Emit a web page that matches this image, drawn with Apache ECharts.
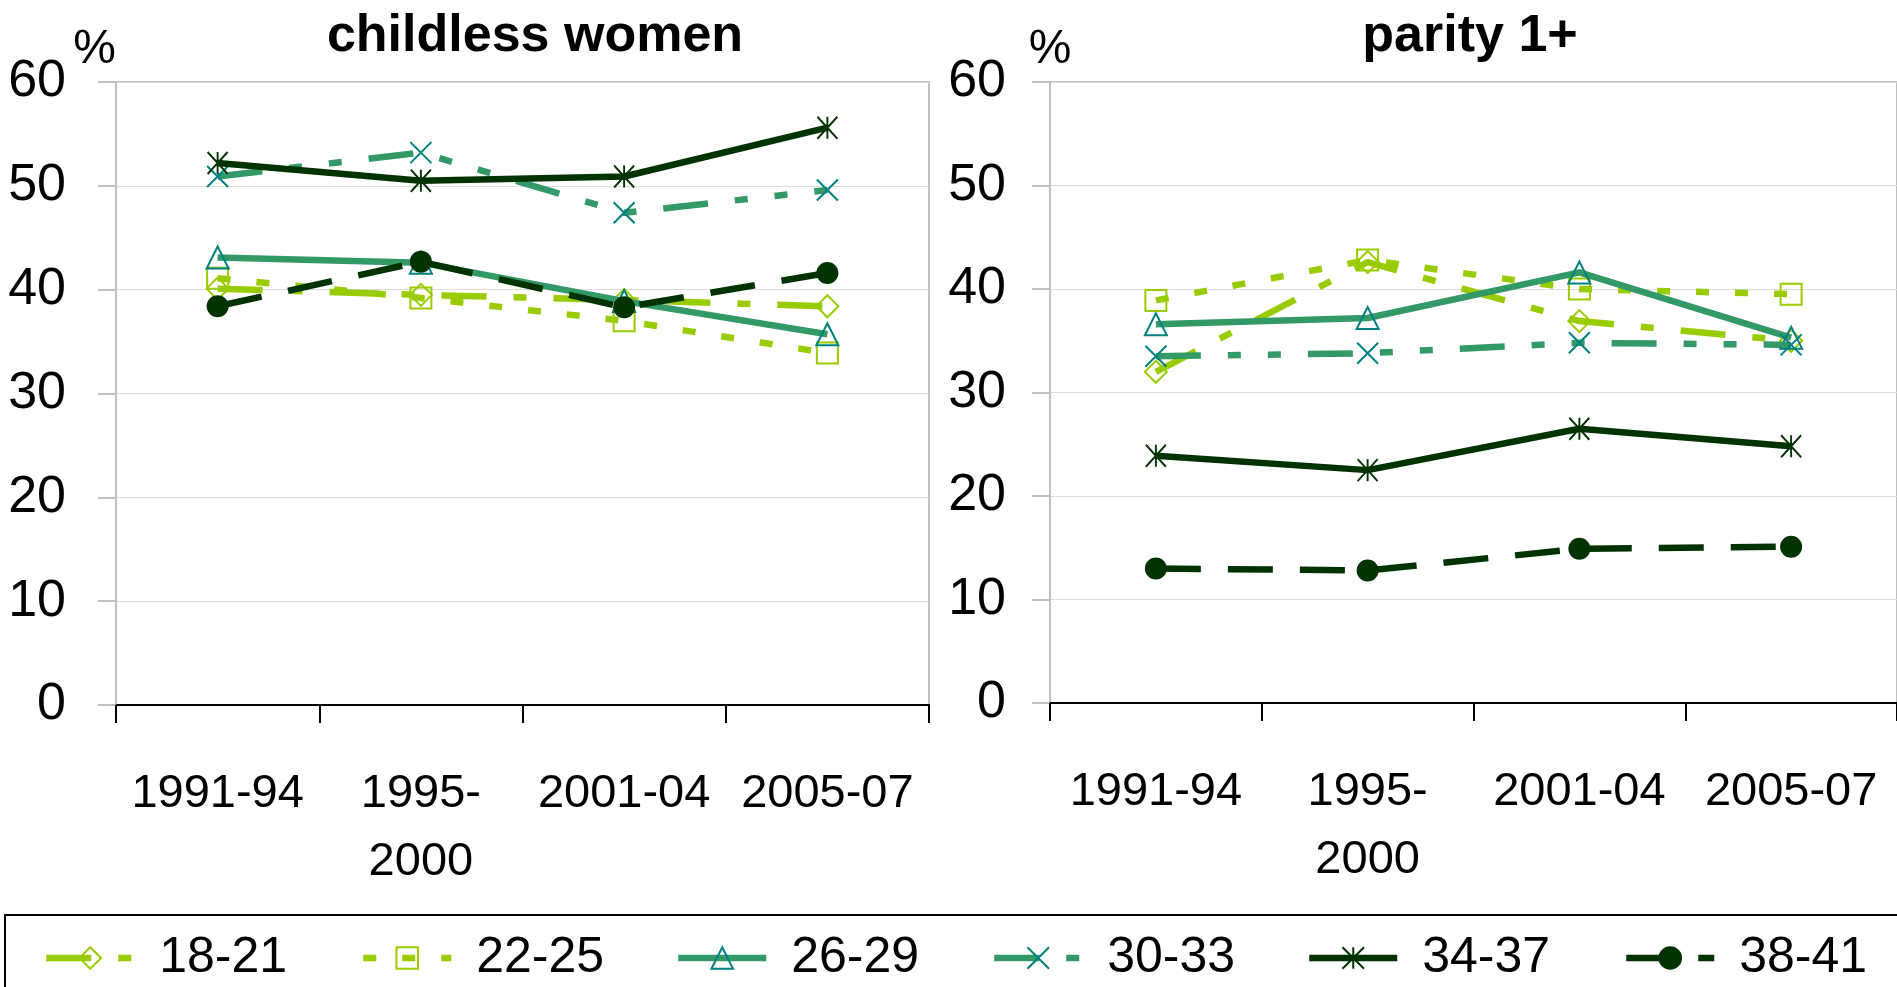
<!DOCTYPE html>
<html>
<head>
<meta charset="utf-8">
<script src="https://cdn.jsdelivr.net/npm/echarts@6/dist/echarts.min.js"></script>
<style>
  html, body { margin: 0; padding: 0; background: #fff; }
  #chart { width: 1897px; height: 987px; }
</style>
</head>
<body>
<div id="chart"></div>
<script>
// categories and age groups
var periods = ['1991-94', '1995-\n2000', '2001-04', '2005-07'];
var ageGroups = ['18-21', '22-25', '26-29', '30-33', '34-37', '38-41'];
var panelTitles = ['childless women', 'parity 1+'];

// values in %, one row per age group
var childlessValues = [
  [40.1, 39.5, 39.0, 38.4],
  [41.1, 39.2, 37.0, 33.9],
  [43.1, 42.6, 38.9, 35.7],
  [50.9, 53.2, 47.4, 49.6],
  [52.2, 50.5, 50.9, 55.6],
  [38.4, 42.7, 38.3, 41.6]
];
var parityValues = [
  [32.0, 42.6, 36.9, 35.0],
  [38.9, 42.8, 40.0, 39.5],
  [36.6, 37.2, 41.6, 35.3],
  [33.5, 33.8, 34.8, 34.6],
  [23.9, 22.5, 26.5, 24.8],
  [13.0, 12.8, 14.9, 15.1]
];

(function() {
  var font = 'Liberation Sans, Arial, sans-serif';
  var lime = '#99cc00', sea = '#339966', teal = '#008080', forest = '#003300';
  var xMark = 'path://M0,0L20,20M20,0L0,20';
  var star = 'path://M0,0L20,20M20,0L0,20M10,0L10,20';

  // line look per age group
  var looks = [
    { line: lime, dash: [45, 27, 13, 27], symbol: 'diamond', size: 22, mark: lime, fill: 'transparent' },
    { line: lime, dash: [13, 26], symbol: 'rect', size: 21, mark: lime, fill: 'transparent' },
    { line: sea, dash: 'solid', symbol: 'triangle', size: 22, mark: teal, fill: 'transparent' },
    { line: sea, dash: [45, 27, 13, 27, 13, 27], symbol: xMark, size: 21, mark: teal, fill: 'transparent' },
    { line: forest, dash: 'solid', symbol: star, size: [20, 22], mark: forest, fill: 'transparent' },
    { line: forest, dash: [45, 27], symbol: 'circle', size: 20, mark: forest, fill: forest }
  ];

  var grids = [
    { left: 116, top: 82, width: 813, height: 623 },
    { left: 1050, top: 82, width: 852, height: 621 }
  ];

  function xAxis(i) {
    return {
      type: 'category', gridIndex: i, data: periods, boundaryGap: true,
      axisLine: { show: true, lineStyle: { color: '#000', width: 2 } },
      axisTick: { show: true, inside: false, length: 18, lineStyle: { color: '#000', width: 2 } },
      axisLabel: { interval: 0, margin: 55, fontSize: 47, lineHeight: 68, color: '#000', fontFamily: font },
      splitLine: { show: false }
    };
  }

  function yAxis(i) {
    return {
      type: 'value', gridIndex: i, min: 0, max: 60, interval: 10,
      name: '%', nameLocation: 'end', nameGap: 8,
      nameTextStyle: { fontSize: 48, color: '#000', fontFamily: font,
        align: i === 0 ? 'right' : 'center', verticalAlign: 'bottom' },
      axisLine: { show: true, lineStyle: { color: '#bfbfbf', width: 2 } },
      axisTick: { show: true, length: 18, lineStyle: { color: '#bfbfbf', width: 2 } },
      axisLabel: { margin: i === 0 ? 50 : 44, fontSize: 52, color: '#000', fontFamily: font },
      splitLine: { lineStyle: { color: '#dcdcdc', width: 1 } }
    };
  }

  var series = [];
  [childlessValues, parityValues].forEach(function(rows, g) {
    rows.forEach(function(vals, k) {
      var lk = looks[k];
      series.push({
        name: ageGroups[k], type: 'line', xAxisIndex: g, yAxisIndex: g,
        data: vals, symbol: lk.symbol, symbolSize: lk.size, showSymbol: true,
        lineStyle: { color: lk.line, width: 6.5, type: lk.dash, cap: 'butt' },
        itemStyle: { color: lk.fill, borderColor: lk.mark, borderWidth: 2 },
        emphasis: { disabled: true },
        z: 2 + k
      });
    });
  });

  var legendLeft = [43, 360, 675, 991, 1306, 1623];
  var legends = ageGroups.map(function(name, k) {
    return {
      data: [name], left: legendLeft[k], top: 933, padding: 0,
      itemWidth: 88, itemHeight: 27, selectedMode: false,
      lineStyle: { width: 6.5 },
      textStyle: { fontSize: 50, color: '#000', fontFamily: font, padding: [0, 0, 0, 20] }
    };
  });

  var chart = echarts.init(document.getElementById('chart'));
  chart.setOption({
    animation: false,
    backgroundColor: '#fff',
    grid: grids.map(function(g) {
      return { left: g.left, top: g.top, width: g.width, height: g.height,
        show: true, borderColor: '#bfbfbf', borderWidth: 2, containLabel: false };
    }),
    xAxis: [xAxis(0), xAxis(1)],
    yAxis: [yAxis(0), yAxis(1)],
    legend: legends,
    graphic: [
      { type: 'text', x: 535, y: 37, style: { text: panelTitles[0], fontSize: 52, fontWeight: 'bold',
        fontFamily: font, fill: '#000', align: 'center', verticalAlign: 'middle' } },
      { type: 'text', x: 1470, y: 37, style: { text: panelTitles[1], fontSize: 52, fontWeight: 'bold',
        fontFamily: font, fill: '#000', align: 'center', verticalAlign: 'middle' } },
      { type: 'rect', shape: { x: 5, y: 915, width: 1900, height: 100 },
        style: { fill: 'none', stroke: '#000', lineWidth: 2 }, z: 100 }
    ],
    series: series
  });
})();
</script>
</body>
</html>
